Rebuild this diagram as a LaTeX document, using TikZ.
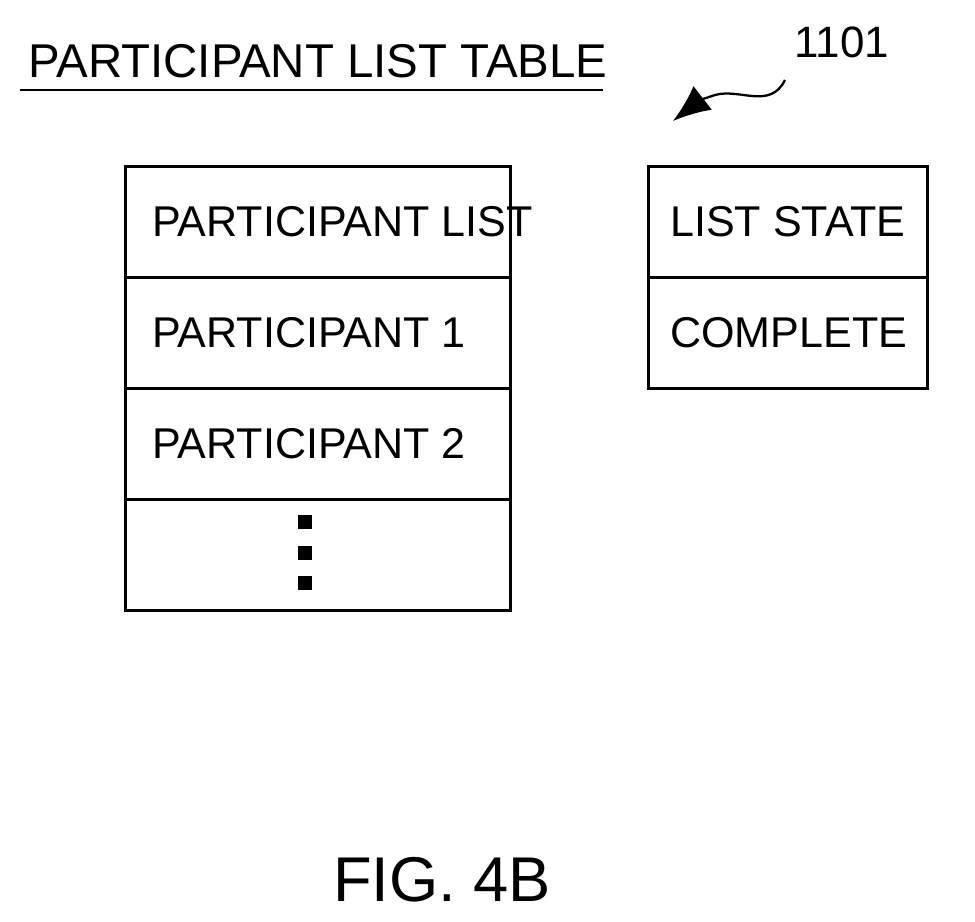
\documentclass[tikz,border=0pt]{standalone}
\usepackage{fontspec}
\setmainfont{Liberation Sans}
\usetikzlibrary{positioning,arrows.meta}
\tikzset{
  cell/.style={draw, line width=1.6pt, minimum height=2.22cm, inner sep=0pt},
  lcell/.style={cell, minimum width=7.7cm},
  rcell/.style={cell, minimum width=5.58cm},
  txt/.style={anchor=west, inner sep=0pt, font=\fontsize{24.5}{28}\selectfont},
  dot/.style={fill, minimum size=0.28cm, inner sep=0pt}
}
\begin{document}
\begin{tikzpicture}[x=0.02cm, y=-0.02cm]
  \useasboundingbox (0,0) rectangle (975,922);
  % title
  \node[anchor=base west, font=\fontsize{27}{30}\selectfont, inner sep=0pt] (title) at (28,78) {PARTICIPANT LIST TABLE};
  \draw[line width=1.3pt] (20,90) coordinate (ul) -- (603,90) coordinate (ur);
  % participant list
  \node[lcell, anchor=north west] (p0) at (124,165) {};
  \node[lcell, below=-1.6pt of p0] (p1) {};
  \node[lcell, below=-1.6pt of p1] (p2) {};
  \node[lcell, below=-1.6pt of p2] (p3) {};
  \node[txt, right=0.56cm of p0.west] (t0) {PARTICIPANT LIST};
  \node[txt, right=0.56cm of p1.west] (t1) {PARTICIPANT 1};
  \node[txt, right=0.56cm of p2.west] (t2) {PARTICIPANT 2};
  \node[dot] (d1) at (305,522) {};
  \node[dot] (d2) at (305,553) {};
  \node[dot] (d3) at (305,583) {};
  % list state
  \node[rcell, anchor=north west] (s0) at (647,165) {};
  \node[rcell, below=-1.6pt of s0] (s1) {};
  \node[txt, right=0.46cm of s0.west] (u0) {LIST STATE};
  \node[txt, right=0.46cm of s1.west] (u1) {COMPLETE};
  % reference
  \node[font=\fontsize{25}{28}\selectfont] (ref) at (842,42) {1101};
  \coordinate (tip) at (673,121);
  \draw[line width=1.3pt, -{Latex[length=0.75cm,width=0.6cm]}] (785,80) .. controls (770,110) and (740,88) .. (715,95) .. controls (700,100) .. (tip);
  % caption
  \node[font=\fontsize{36}{40}\selectfont] (fig) at (442,880) {FIG. 4B};
\end{tikzpicture}
\end{document}
